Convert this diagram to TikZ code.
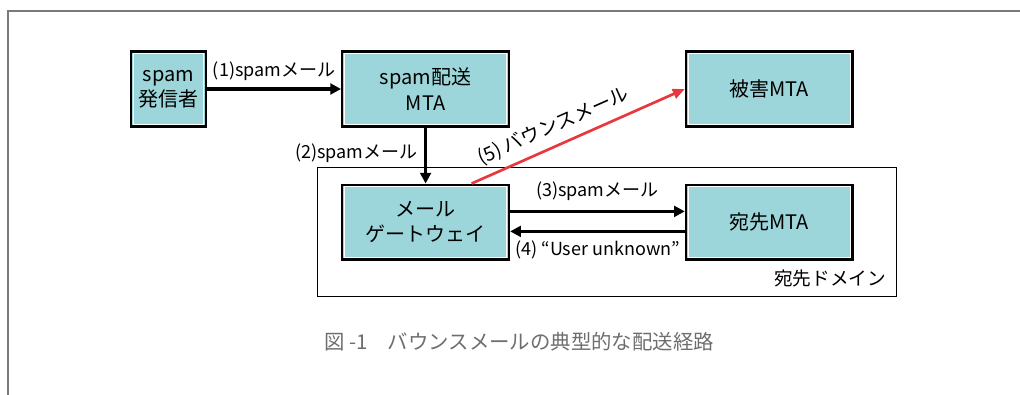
\documentclass[tikz,border=0pt]{standalone}
\usepackage{fontspec}
\setmainfont{Noto Sans CJK JP}
\usetikzlibrary{arrows.meta,positioning,fit,calc}
\definecolor{boxfill}{HTML}{9DD6DA}
\definecolor{bouncered}{HTML}{E8383D}
\definecolor{framegray}{HTML}{7A7A7A}
\definecolor{captiongray}{HTML}{6E6E6E}
\tikzset{
    node distance = 42pt and 100pt,
    mta/.style = {rectangle, draw, line width=1.8pt, fill=boxfill, align=center,
        minimum width=125pt, minimum height=56pt, inner sep=2pt, font=\fontsize{15}{19}\selectfont,
        path picture={\draw[white, line width=0.6pt]
            ([shift={(1.6pt,-1.6pt)}]path picture bounding box.north west) rectangle
            ([shift={(-1.6pt,1.6pt)}]path picture bounding box.south east);}},
    flow/.style = {line width=2.4pt, -{Triangle[length=8pt,width=8pt]}},
    bounce/.style = {line width=2pt, draw=bouncered, -{Triangle[length=9pt,width=7.5pt]}},
    lbl/.style = {font=\fontsize{13.5}{16}\selectfont, inner sep=1pt},
    domainbox/.style = {draw, line width=0.8pt, inner sep=0pt}
}

\begin{document}
\begin{tikzpicture}
    \useasboundingbox (-126.4pt,66.75pt) rectangle (638.6pt,-229.5pt);
    % page frame
    \draw[framegray, line width=1.6pt] (-120.4pt,-229.5pt) -- (-120.4pt,58.3pt) -- (638.6pt,58.3pt);

    \node[mta, minimum width=56pt] (sender) at (0,0) {spam\\発信者};
    \node[mta] (relay) [right=100.5pt of sender] {spam配送\\MTA};
    \node[mta] (victim) [right=131pt of relay] {被害MTA};
    \node[mta] (gateway) [below=of relay] {メール\\ゲートウェイ};
    \node[mta] (dest) [below=of victim] {宛先MTA};

    % destination domain
    \coordinate (dnw) at ($(gateway.north west)+(-18pt,12pt)$);
    \coordinate (dse) at ($(dest.south east)+(32pt,-27pt)$);
    \node[domainbox, fit=(dnw)(dse)] (domain) {};
    \node[lbl, font=\fontsize{14}{16}\selectfont, anchor=south east] (domainname)
        at ($(domain.south east)+(-7pt,6pt)$) {宛先ドメイン};

    \draw[flow] (sender) -- node[lbl, above=4pt] {(1)spamメール} (relay);
    \draw[flow] (relay) -- node[lbl, left=4pt, yshift=2pt] {(2)spamメール} (gateway);
    \draw[flow] ([yshift=8pt]gateway.east) -- node[lbl, above=6pt] {(3)spamメール} ([yshift=8pt]dest.west);
    \draw[flow] ([yshift=-7pt]dest.west) -- node[lbl, below=5pt] {(4)~“User unknown”} ([yshift=-7pt]gateway.east);
    \draw[bounce] ([xshift=34.5pt]gateway.north) -- node[lbl, font=\fontsize{14.5}{16}\selectfont, pos=0.42, above=5pt, sloped] {(5)~バウンスメール} (victim.west);

    \node[captiongray, font=\fontsize{15.3}{18}\selectfont] (caption) at (262.9pt,-189.75pt)
        {図 -1\hspace{1em}バウンスメールの典型的な配送経路};
\end{tikzpicture}
\end{document}
